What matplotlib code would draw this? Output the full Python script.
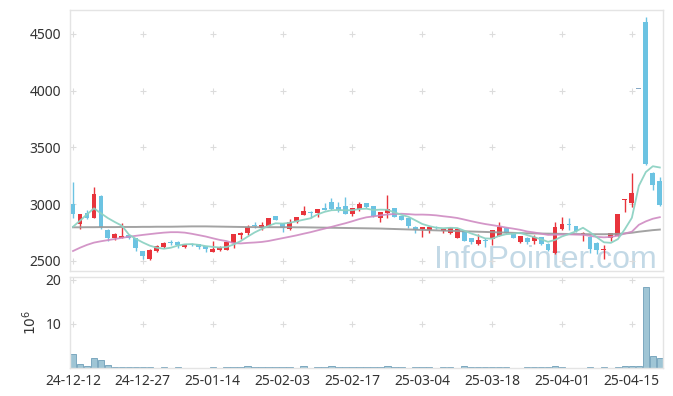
import numpy as np
import pandas as pd
import matplotlib
matplotlib.use("Agg")
import matplotlib.pyplot as plt
from matplotlib import font_manager

# ---------------- data ----------------
tick_labels = ["24-12-12", "24-12-27", "25-01-14", "25-02-03", "25-02-17",
               "25-03-04", "25-03-18", "25-04-01", "25-04-15"]
tick_pos = [0, 10, 20, 30, 40, 50, 60, 70, 80]

opens = [3000, 2820, 2925, 2880, 3070, 2770, 2705, 2705, 2725, 2700,
         2585, 2515, 2585, 2620, 2660, 2668, 2618, 2646, 2645, 2627,
         2580, 2594, 2597, 2660, 2727, 2742, 2808, 2792, 2809, 2894,
         2830, 2780, 2838, 2903, 2930, 2924, 2968, 3015, 2976, 2982,
         2912, 2959, 3009, 2982, 2880, 2924, 2962, 2894, 2874, 2800,
         2777, 2771, 2797, 2762, 2741, 2703, 2762, 2700, 2645, 2680,
         2690, 2718, 2791, 2742, 2668, 2703, 2674, 2706, 2650, 2570,
         2777, 2823, 2806, 2735, 2712, 2660, 2596, 2697, 2718, 3035,
         3012, 4010, 4600, 3270, 3203]
highs = [3190, 2915, 2950, 3150, 3080, 2780, 2745, 2830, 2730, 2700,
         2590, 2600, 2640, 2665, 2685, 2675, 2650, 2660, 2650, 2630,
         2674, 2630, 2668, 2736, 2750, 2815, 2845, 2845, 2876, 2896,
         2835, 2868, 2888, 2985, 2938, 2958, 3006, 3050, 3015, 3062,
         2965, 3020, 3012, 2985, 2932, 3080, 2965, 2897, 2876, 2803,
         2797, 2800, 2809, 2786, 2800, 2791, 2765, 2703, 2733, 2697,
         2775, 2838, 2795, 2745, 2720, 2706, 2727, 2709, 2653, 2840,
         2883, 2874, 2809, 2750, 2715, 2665, 2640, 2745, 2915, 3048,
         3270, 4010, 4645, 3280, 3235]
lows = [2880, 2780, 2870, 2880, 2780, 2675, 2685, 2700, 2695, 2590,
        2520, 2510, 2580, 2615, 2640, 2616, 2612, 2630, 2600, 2575,
        2578, 2585, 2594, 2610, 2690, 2725, 2785, 2775, 2805, 2855,
        2750, 2771, 2835, 2900, 2880, 2883, 2948, 2947, 2932, 2910,
        2894, 2941, 2962, 2888, 2844, 2880, 2885, 2855, 2786, 2741,
        2712, 2741, 2777, 2741, 2733, 2700, 2675, 2645, 2642, 2624,
        2640, 2715, 2740, 2700, 2659, 2648, 2648, 2639, 2590, 2560,
        2770, 2771, 2750, 2675, 2565, 2560, 2520, 2677, 2715, 2932,
        2970, 4010, 3345, 3123, 2985]
closes = [2910, 2910, 2880, 3090, 2800, 2700, 2735, 2720, 2700, 2610,
          2540, 2595, 2630, 2655, 2655, 2636, 2648, 2642, 2620, 2600,
          2603, 2618, 2665, 2733, 2747, 2800, 2804, 2815, 2874, 2860,
          2786, 2838, 2883, 2941, 2925, 2956, 2950, 2956, 2950, 2912,
          2962, 3000, 2971, 2891, 2929, 2956, 2888, 2862, 2806, 2771,
          2794, 2794, 2792, 2783, 2791, 2783, 2677, 2668, 2683, 2675,
          2771, 2800, 2742, 2703, 2718, 2668, 2712, 2645, 2592, 2800,
          2824, 2818, 2765, 2748, 2604, 2595, 2602, 2741, 2912, 3045,
          3094, 4010, 3350, 3167, 2990]
volumes_m = [3.2, 1.0, 0.5, 2.3, 1.9, 0.75, 0.25, 0.25, 0.25, 0.25,
             0.25, 0.25, 0.02, 0.25, 0.02, 0.25, 0.02, 0.02, 0.02, 0.02,
             0.25, 0.02, 0.25, 0.25, 0.25, 0.55, 0.25, 0.25, 0.25, 0.25,
             0.25, 0.25, 0.02, 0.55, 0.02, 0.25, 0.25, 0.55, 0.25, 0.25,
             0.25, 0.25, 0.25, 0.25, 0.25, 0.55, 0.25, 0.25, 0.02, 0.25,
             0.25, 0.25, 0.02, 0.25, 0.25, 0.02, 0.55, 0.25, 0.25, 0.25,
             0.25, 0.25, 0.25, 0.02, 0.02, 0.25, 0.25, 0.25, 0.25, 0.55,
             0.25, 0.02, 0.02, 0.02, 0.25, 0.02, 0.25, 0.02, 0.25, 0.55,
             0.55, 0.55, 18.3, 2.8, 2.2]
# moving-average values at the start of the window (depend on earlier history)
ma5_head = [2800, 2853, 2909, 2962]
ma20_head = [2586, 2615, 2640, 2660, 2672, 2682, 2692, 2702, 2712, 2720,
             2728, 2735, 2742, 2748, 2752, 2752, 2748, 2738, 2726]
ma_long = [2795, 2795, 2796, 2796, 2797, 2797, 2797, 2798, 2798, 2798,
           2799, 2799, 2800, 2800, 2800, 2801, 2802, 2803, 2803, 2803,
           2802, 2801, 2800, 2799, 2798, 2797, 2797, 2796, 2796, 2796,
           2796, 2796, 2795, 2795, 2794, 2793, 2792, 2791, 2790, 2789,
           2788, 2787, 2786, 2785, 2784, 2782, 2780, 2778, 2776, 2774,
           2772, 2770, 2768, 2766, 2764, 2762, 2760, 2758, 2756, 2754,
           2752, 2750, 2748, 2746, 2744, 2742, 2741, 2740, 2739, 2738,
           2737, 2736, 2735, 2735, 2734, 2734, 2734, 2735, 2737, 2741,
           2747, 2756, 2763, 2770, 2775]

# ---------------- derived ----------------
o = np.array(opens, float); h = np.array(highs, float)
l = np.array(lows, float); c = np.array(closes, float)
x = np.arange(len(c))
cs = pd.Series(c)
ma5 = cs.rolling(5).mean().to_numpy()
ma5[:len(ma5_head)] = ma5_head
ma20 = cs.rolling(20).mean().to_numpy()
ma20[:len(ma20_head)] = ma20_head

RED = "#e8343c"
BLUE = "#6cc3e2"
FLAT = "#86a9c6"
cols = np.where(c > o, RED, np.where(c < o, BLUE, FLAT))

names = {f.name for f in font_manager.fontManager.ttflist}
tick_font = "Noto Sans" if "Noto Sans" in names else "DejaVu Sans"
wm_font = "Liberation Sans Narrow" if "Liberation Sans Narrow" in names else "Liberation Sans"
wm_size = 27 if wm_font == "Liberation Sans Narrow" else 23

plt.rcParams["font.family"] = [tick_font, "DejaVu Sans"]

fig = plt.figure(figsize=(6.73, 3.96), dpi=100)
ax1 = fig.add_axes([0.1033, 0.3157, 0.8823, 0.659])
ax2 = fig.add_axes([0.1033, 0.0707, 0.8823, 0.229])

# watermark
ax1.text(0.989, 0.012, "InfoPointer.com", transform=ax1.transAxes,
         ha="right", va="baseline", fontsize=wm_size, family=wm_font,
         color="#c3d9e6", zorder=0)

# candles
ax1.vlines(x, l, h, colors=cols, linewidth=1.0, zorder=2)
body_bottom = np.minimum(o, c)
body_h = np.maximum(np.abs(c - o), 9)
ax1.bar(x, body_h, 0.7, bottom=body_bottom, color=cols, linewidth=0, zorder=3)

# moving averages
ax1.plot(x, ma_long, color="#999999", lw=1.4, alpha=0.9, zorder=4)
ax1.plot(x, ma20, color="#cf8bc2", lw=1.3, alpha=0.9, zorder=4)
ax1.plot(x, ma5, color="#8dd2c3", lw=1.3, alpha=0.95, zorder=4)

# volume
ax2.bar(x, volumes_m, 0.92, color="#9fc5d5", edgecolor="#6f9fb8",
        linewidth=0.6, zorder=2)

xlim = (-0.5, 84.5)
price_ticks = [2500, 3000, 3500, 4000, 4500]
vol_ticks = [10, 20]
for ax, ylim, yt in ((ax1, (2410, 4710), price_ticks), (ax2, (0, 20.5), vol_ticks)):
    ax.set_xlim(*xlim)
    ax.set_ylim(*ylim)
    ax.set_yticks(yt)
    ax.set_xticks(tick_pos)
    ax.tick_params(length=0, labelsize=10, colors="#333333", pad=6)
    for s in ax.spines.values():
        s.set_color("#e4e4e4")
        s.set_linewidth(1.0)
    gx, gy = np.meshgrid(tick_pos, yt)
    ax.scatter(gx.ravel(), gy.ravel(), marker="+", s=18, color="#dcdcdc",
               linewidths=0.8, zorder=1)

ax1.set_yticklabels([str(v) for v in price_ticks])
ax1.set_xticklabels([])
ax2.set_yticklabels([str(v) for v in vol_ticks])
ax2.set_xticklabels(tick_labels)
ax2.tick_params(axis="x", pad=4)
ax2.set_ylabel(r"$10^6$", fontsize=10, color="#333333")
ax2.yaxis.set_label_coords(-0.05, 0.5)

fig.savefig("out.png", dpi=100)
